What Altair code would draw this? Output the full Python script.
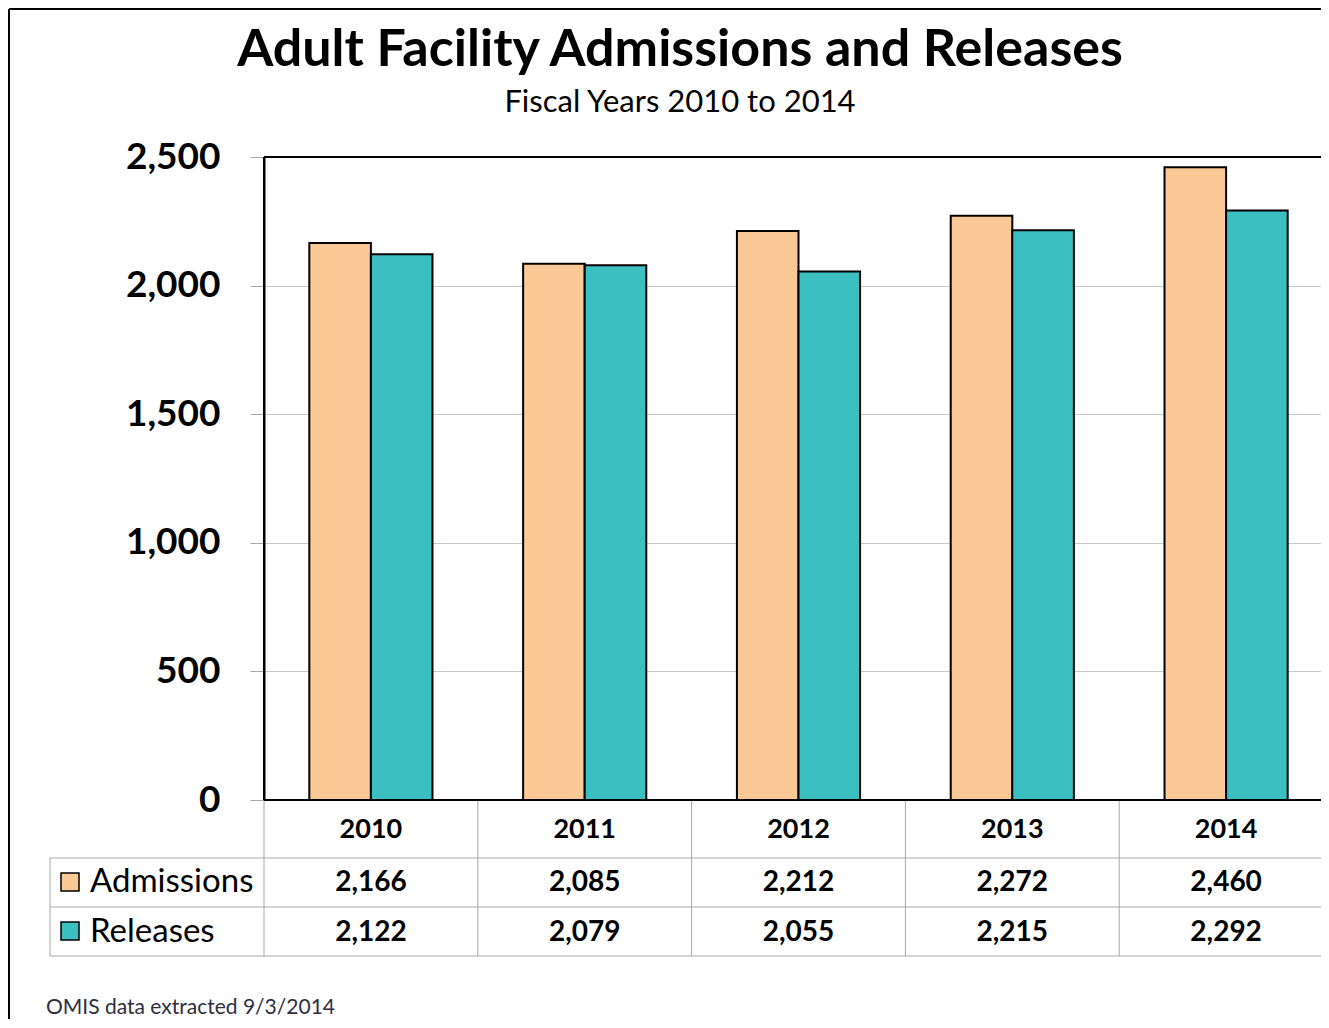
import altair as alt
import pandas as pd

years = ["2010", "2011", "2012", "2013", "2014"]
admissions = [2166, 2085, 2212, 2272, 2460]
releases = [2122, 2079, 2055, 2215, 2292]
series = ["Admissions", "Releases"]
colors = ["#FBC996", "#3BBFC0"]
y_ticks = [0, 500, 1000, 1500, 2000, 2500]
title = "Adult Facility Admissions and Releases"
subtitle = "Fiscal Years 2010 to 2014"
footer = "OMIS data extracted 9/3/2014"

long = pd.DataFrame({
    "year": years * 2,
    "series": [series[0]] * len(years) + [series[1]] * len(years),
    "value": admissions + releases,
})
year_df = pd.DataFrame({"year": years})
one = pd.DataFrame({"k": [0]})

W = 1069
H = 643
FONT = "Lato"
GRID = "#A8A8A8"

bars = alt.Chart(long).mark_bar(stroke="black", strokeWidth=2).encode(
    x=alt.X("year:N", sort=years,
            scale=alt.Scale(paddingInner=0.424, paddingOuter=0.212), axis=None),
    xOffset=alt.XOffset("series:N", sort=series,
                        scale=alt.Scale(paddingInner=0, paddingOuter=0)),
    y=alt.Y("value:Q", scale=alt.Scale(domain=[0, 2500], nice=False),
            axis=alt.Axis(values=y_ticks, format=",.0f", title=None,
                          domainColor="black", domainWidth=2,
                          tickColor=GRID, tickSize=14, tickWidth=1,
                          gridColor="#C8C8C8", gridWidth=1,
                          labelFont=FONT, labelFontSize=37, labelFontWeight="bold",
                          labelColor="black", labelPadding=30)),
    color=alt.Color("series:N", scale=alt.Scale(domain=series, range=colors), legend=None),
)

tx = alt.X("year:N", sort=years, scale=alt.Scale(paddingInner=0, paddingOuter=0), axis=None)
tx0 = alt.X("year:N", sort=years, scale=alt.Scale(paddingInner=0, paddingOuter=0),
            axis=None, bandPosition=0)

vlines = alt.Chart(year_df).mark_rule(color=GRID, strokeWidth=1).encode(
    x=tx0, y=alt.value(H), y2=alt.value(799))

layers = [bars, vlines]

for yy in [701, 750, 799]:
    layers.append(alt.Chart(one).mark_rule(color=GRID, strokeWidth=1).encode(
        x=alt.value(-214), x2=alt.value(W), y=alt.value(yy)))
layers.append(alt.Chart(one).mark_rule(color=GRID, strokeWidth=1).encode(
    x=alt.value(-214), y=alt.value(701), y2=alt.value(799)))

# plot frame (black, drawn above the grid)
layers.append(alt.Chart(one).mark_rule(color="black", strokeWidth=2).encode(
    x=alt.value(0), x2=alt.value(W), y=alt.value(0)))
layers.append(alt.Chart(one).mark_rule(color="black", strokeWidth=2).encode(
    x=alt.value(0), x2=alt.value(W), y=alt.value(H)))
layers.append(alt.Chart(one).mark_rule(color="black", strokeWidth=2).encode(
    x=alt.value(0), y=alt.value(0), y2=alt.value(H)))

layers.append(alt.Chart(year_df).mark_text(font=FONT, fontSize=27, fontWeight="bold",
                                           color="black", baseline="middle").encode(
    x=tx, y=alt.value(673), text="year:N"))

row_y = [726, 776]
sw_y = [716, 765]
for i, s in enumerate(series):
    layers.append(alt.Chart(long).transform_filter(alt.datum.series == s).mark_text(
        font=FONT, fontSize=28, fontWeight="bold", color="black", baseline="middle").encode(
        x=tx, y=alt.value(row_y[i]), text=alt.Text("value:Q", format=",.0f")))
    layers.append(alt.Chart(one).mark_rect(stroke="black", strokeWidth=1.5, color=colors[i]).encode(
        x=alt.value(-203), x2=alt.value(-185), y=alt.value(sw_y[i]), y2=alt.value(sw_y[i] + 18)))
    layers.append(alt.Chart(pd.DataFrame({"t": [s]})).mark_text(
        font=FONT, fontSize=33, color="black", align="left", baseline="middle").encode(
        x=alt.value(-174), y=alt.value(row_y[i] - 1), text="t:N"))

layers.append(alt.Chart(pd.DataFrame({"t": [title]})).mark_text(
    font=FONT, fontSize=52, fontWeight="bold", color="black", align="center",
    baseline="alphabetic").encode(x=alt.value(416), y=alt.value(-91), text="t:N"))
layers.append(alt.Chart(pd.DataFrame({"t": [subtitle]})).mark_text(
    font=FONT, fontSize=31, color="black", align="center",
    baseline="alphabetic").encode(x=alt.value(416), y=alt.value(-45), text="t:N"))
layers.append(alt.Chart(pd.DataFrame({"t": [footer]})).mark_text(
    font=FONT, fontSize=21, color="#2E2E3E", align="left",
    baseline="alphabetic").encode(x=alt.value(-218), y=alt.value(857), text="t:N"))

# outer frame of the picture
layers.append(alt.Chart(one).mark_rule(color="black", strokeWidth=2).encode(
    x=alt.value(-255), x2=alt.value(W), y=alt.value(-148)))
layers.append(alt.Chart(one).mark_rule(color="black", strokeWidth=2).encode(
    x=alt.value(-255), y=alt.value(-148), y2=alt.value(H + 225)))

chart = alt.layer(*layers).resolve_scale(x="independent").properties(
    width=W, height=H,
    autosize=alt.AutoSizeParams(type="none"),
    padding={"left": 256, "top": 149, "right": -12, "bottom": 219},
).configure_view(stroke=None).configure(background="white")

chart.save("out.html", embed_options={"renderer": "svg", "actions": False})
